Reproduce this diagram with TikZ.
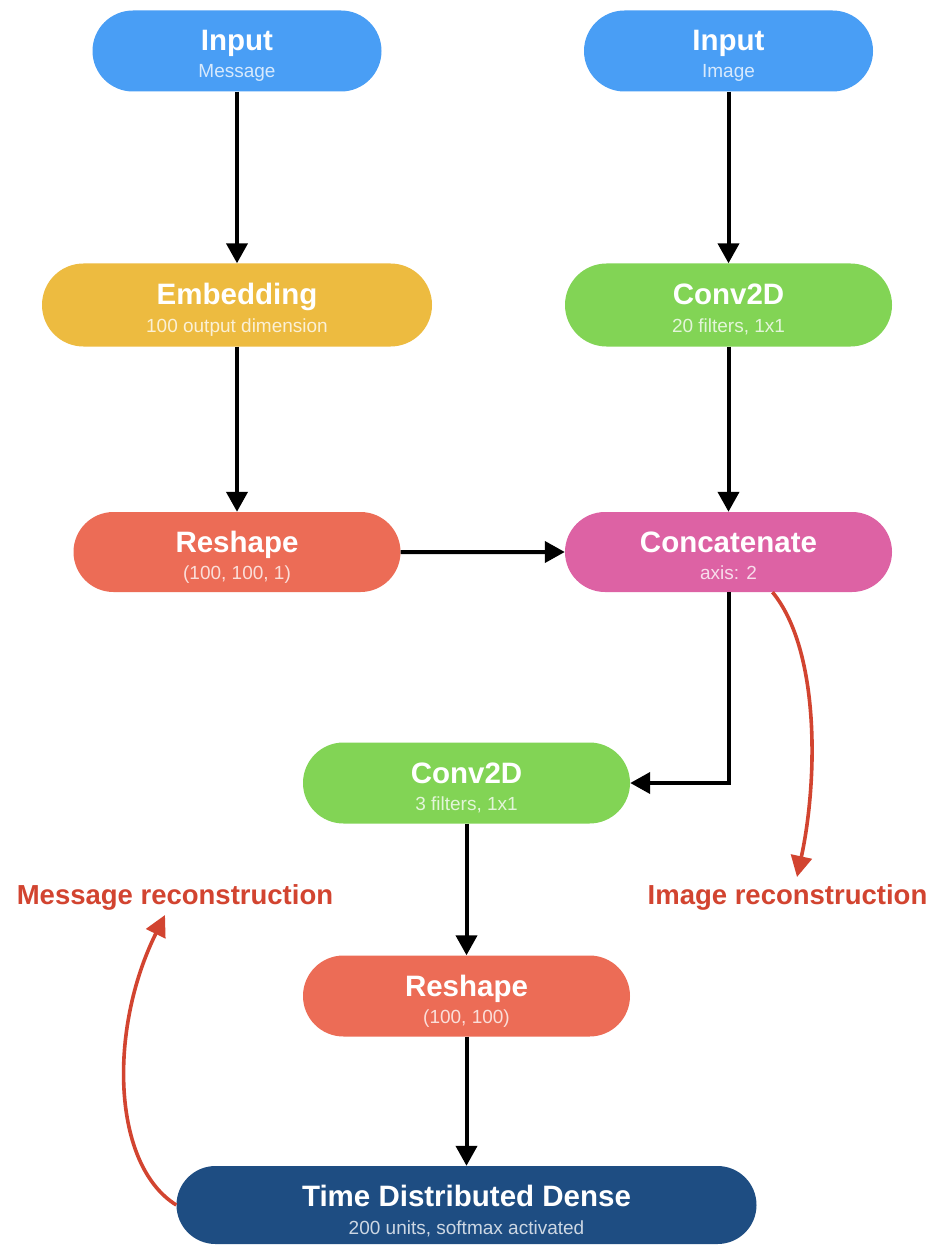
\documentclass[tikz,border=0pt]{standalone}
\usepackage{fontspec}
\setmainfont{Liberation Sans}
\usetikzlibrary{shapes.misc,arrows.meta,calc}

\definecolor{cBlue}{RGB}{73,158,245}
\definecolor{cYellow}{RGB}{237,187,64}
\definecolor{cGreen}{RGB}{130,212,85}
\definecolor{cOrange}{RGB}{236,108,86}
\definecolor{cPink}{RGB}{221,98,164}
\definecolor{cNavy}{RGB}{30,77,130}
\definecolor{cRed}{RGB}{210,68,48}

\tikzset{
  layer/.style={rounded rectangle, minimum height=#1, inner sep=0pt, draw=none},
  layer/.default=81pt,
  ttl/.style={anchor=base, text=white, font=\fontsize{29.5}{30}\selectfont\bfseries, inner sep=0pt},
  sub/.style={anchor=base, text=white, text opacity=0.78, font=\fontsize{19}{20}\selectfont, inner sep=0pt},
  flow/.style={line width=4pt, draw=black, -{Triangle[length=20pt,width=21pt]}},
  recon/.style={line width=3.6pt, draw=cRed, -{Triangle[length=21pt,width=21pt]}},
  note/.style={text=cRed, font=\fontsize{27.5}{28}\selectfont\bfseries, inner sep=0pt}
}

\begin{document}
\begin{tikzpicture}[x=1pt, y=-1pt]
  \fill[white] (0,0) rectangle (935,1246);
  \useasboundingbox (0,0) rectangle (935,1246);

  % layer boxes
  \node[layer, fill=cBlue,   minimum width=289pt] (inmsg) at (237,51) {};
  \node[layer, fill=cBlue,   minimum width=289pt] (inimg) at (728.5,51) {};
  \node[layer, fill=cYellow, minimum width=390pt, minimum height=83pt] (emb) at (237,305) {};
  \node[layer, fill=cGreen,  minimum width=327pt, minimum height=83pt] (convA) at (728.5,305) {};
  \node[layer, fill=cOrange, minimum width=327pt, minimum height=80pt] (reshA) at (237,552) {};
  \node[layer, fill=cPink,   minimum width=327pt, minimum height=80pt] (cat) at (728.5,552) {};
  \node[layer, fill=cGreen,  minimum width=327pt] (convB) at (466.5,783) {};
  \node[layer, fill=cOrange, minimum width=327pt] (reshB) at (466.5,996) {};
  \node[layer, fill=cNavy,   minimum width=580pt, minimum height=78pt] (tdd) at (466.5,1205) {};

  % titles and parameters
  \node[ttl] (inmsgT) at (inmsg.center) {Input};
  \node[sub] (inmsgS) at ($(inmsg.center)+(0,27)$) {Message};
  \node[ttl] (inimgT) at (inimg.center) {Input};
  \node[sub] (inimgS) at ($(inimg.center)+(0,27)$) {Image};
  \node[ttl] (embT) at (emb.center) {Embedding};
  \node[sub] (embS) at ($(emb.center)+(0,27)$) {100 output dimension};
  \node[ttl] (convAT) at (convA.center) {Conv2D};
  \node[sub] (convAS) at ($(convA.center)+(0,27)$) {20 filters, 1x1};
  \node[ttl] (reshAT) at (reshA.center) {Reshape};
  \node[sub] (reshAS) at ($(reshA.center)+(0,27)$) {(100, 100, 1)};
  \node[ttl] (catT) at (cat.center) {Concatenate};
  \node[sub] (catS) at ($(cat.center)+(0,27)$) {axis: 2};
  \node[ttl] (convBT) at (convB.center) {Conv2D};
  \node[sub] (convBS) at ($(convB.center)+(0,27)$) {3 filters, 1x1};
  \node[ttl] (reshBT) at (reshB.center) {Reshape};
  \node[sub] (reshBS) at ($(reshB.center)+(0,27)$) {(100, 100)};
  \node[ttl] (tddT) at ($(tdd.center)+(0,1)$) {Time Distributed Dense};
  \node[sub] (tddS) at ($(tdd.center)+(0,29)$) {200 units, softmax activated};

  % reconstruction labels
  \node[note] (msgrec) at (175,897) {Message reconstruction};
  \node[note] (imgrec) at (787.5,897) {Image reconstruction};

  % data flow
  \draw[flow] (inmsg) -- (emb);
  \draw[flow] (emb) -- (reshA);
  \draw[flow] (inimg) -- (convA);
  \draw[flow] (convA) -- (cat);
  \draw[flow] (reshA) -- (cat);
  \draw[flow] (cat.south) |- (convB.east);
  \draw[flow] (convB) -- (reshB);
  \draw[flow] (reshB) -- (tdd);

  % reconstruction outputs
  \coordinate (imgtip) at (797,877);
  \coordinate (msgtip) at (165,915);
  \draw[recon] ($(cat.south)+(44,0)$) .. controls (820,650) and (818,780) .. (imgtip);
  \draw[recon] (tdd.west) .. controls (112,1165) and (108,1030) .. (msgtip);
\end{tikzpicture}
\end{document}
